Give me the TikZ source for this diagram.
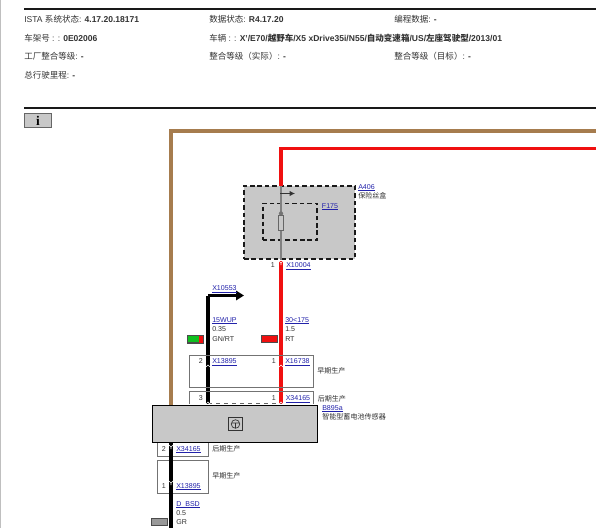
\documentclass[tikz,border=0pt]{standalone}
\usepackage{fontspec}
\usetikzlibrary{arrows.meta}
\setmainfont{Liberation Sans}
\newfontfamily\cjkf{Noto Sans CJK SC}
\newfontfamily\serifi{Liberation Serif}
\newcommand{\zh}[1]{{\cjkf #1}}
\newcommand{\zhb}[1]{{\cjkf\bfseries #1}}
\definecolor{wbrown}{HTML}{A67C4E}
\definecolor{wred}{HTML}{F01010}
\definecolor{wgreen}{HTML}{10C020}
\definecolor{boxgray}{HTML}{C8C8C8}
\definecolor{linkblue}{HTML}{2222AA}
\definecolor{txt}{HTML}{333333}
\tikzset{
  x=0.75pt,y=-0.75pt,
  hdr/.style={anchor=west,inner sep=0pt,font=\fontsize{6.4pt}{7pt}\selectfont,text=txt},
  lbl/.style={anchor=west,inner sep=0pt,font=\fontsize{5.3pt}{6pt}\selectfont,text=txt},
  lnk/.style={lbl,text=linkblue},
  num/.style={anchor=east,inner sep=0pt,font=\fontsize{5.3pt}{6pt}\selectfont,text=txt},
  rule/.style={line width=1.4pt,black!90},
  thinbox/.style={draw=black!55,line width=0.5pt},
  dashbox/.style={draw=black!90,line width=1.3pt,dash pattern=on 3.4pt off 2.2pt},
  swatch/.style={draw=black!70,line width=0.3pt,minimum width=12pt,minimum height=5.5pt,inner sep=0pt},
  redwire/.style={draw=wred,line width=2.3pt},
  blackwire/.style={draw=black,line width=2.4pt},
  brownwire/.style={draw=wbrown,line width=2.5pt},
  pinmark/.style={draw=white,line width=0.45pt},
}
\newcommand{\ul}[1]{{\setbox0\hbox{#1}\rlap{\smash{\raisebox{-0.8pt}{\rule{\wd0}{0.3pt}}}}\box0}}
% pin marks: a small white fork on a wire
\newcommand{\pinY}[2]{\draw[pinmark] (#1-2,#2-2) -- (#1,#2) -- (#1+2,#2-2) (#1,#2) -- (#1,#2+2);}
\newcommand{\pinA}[2]{\draw[pinmark] (#1-2,#2+2) -- (#1,#2) -- (#1+2,#2+2);}
\begin{document}
\begin{tikzpicture}
\useasboundingbox (0,0) rectangle (602,528);
\fill[white] (0,0) rectangle (602,528);
\fill[black!25] (0,0) rectangle (1,528);
% header
\coordinate (r1a) at (24,9); \coordinate (r1b) at (596,9);
\coordinate (r2a) at (24,108); \coordinate (r2b) at (596,108);
\draw[rule] (r1a) -- (r1b);
\draw[rule] (r2a) -- (r2b);
\node[hdr] (h1) at (24,19) {ISTA \zh{系统状态}: \textbf{4.17.20.18171}};
\node[hdr] (h2) at (209,19) {\zh{数据状态}: \textbf{R4.17.20}};
\node[hdr] (h3) at (394,19) {\zh{编程数据}: \textbf{-}};
\node[hdr] (h4) at (24,38) {\zh{车架号} : : \textbf{0E02006}};
\node[hdr] (h5) at (209,38) {\zh{车辆} : : \textbf{X'/E70/\zhb{越野车}/X5 xDrive35i/N55/\zhb{自动变速箱}/US/\zhb{左座驾驶型}/2013/01}};
\node[hdr] (h6) at (24,56.5) {\zh{工厂整合等级}: \textbf{-}};
\node[hdr] (h7) at (209,56.5) {\zh{整合等级（实际）}: \textbf{-}};
\node[hdr] (h8) at (394,56.5) {\zh{整合等级（目标）}: \textbf{-}};
\node[hdr] (h9) at (24,75) {\zh{总行驶里程}: \textbf{-}};
% info button
\node[draw=black!60,fill=boxgray,line width=0.5pt,minimum width=20.5pt,minimum height=10.8pt,inner sep=0pt,font=\serifi\bfseries\fontsize{10pt}{10pt}\selectfont] (info) at (38,120.5) {i};
% brown
\coordinate (bA) at (171,405);
\coordinate (bB) at (171,131);
\coordinate (bC) at (596,131);
\draw[brownwire] (bA) -- (bB) -- (bC);
% fuse box
\node[dashbox,fill=boxgray,minimum width=83pt,minimum height=54.7pt,inner sep=0pt] (a406) at (299.3,222.2) {};
\node[dashbox,minimum width=41pt,minimum height=27.5pt,inner sep=0pt] (f175) at (290,221.7) {};
% red wire
\coordinate (rA) at (596,148.5);
\coordinate (rB) at (281,148.5);
\coordinate (rC) at (281,186);
\coordinate (rD) at (281,260);
\coordinate (rE) at (281,404);
\draw[redwire] (rA) -- (rB) -- (rC);
\draw[draw=black!50,line width=0.8pt] (rC) -- (rD);
\draw[redwire] (281,261) -- (rE);
% fuse
\fill[black!55] (281,213.5) circle (1.6pt);
\node[draw=black!60,fill=boxgray,line width=0.5pt,minimum width=4.2pt,minimum height=11pt,inner sep=0pt] (fuse) at (281,223) {};
\coordinate (ta) at (280,193.5); \coordinate (tb) at (295,193.5);
\draw[black!80,line width=0.6pt,-{Latex[length=4pt,width=4pt]}] (ta) -- (tb);
\node[lnk] (la406) at (358,187) {\ul{A406}};
\node[lbl] (lbx) at (358,195.5) {\zh{保险丝盒}};
\node[lnk] (lf175) at (321.7,206) {\ul{F175}};
\node[num] (n1) at (275,265.5) {1};
\node[lnk] (x10004) at (286,265.5) {\ul{X10004}};
% black top wire
\coordinate (bkA) at (208,295.5);
\coordinate (bkB) at (208,404);
\coordinate (bkC) at (244,295.5);
\draw[blackwire] (bkA) -- (bkB);
\draw[black,line width=2.4pt,-{Triangle[length=6pt,width=7pt]}] (bkA) -- (bkC);
\node[lnk] (x10553) at (212,288.5) {\ul{X10553}};
\node[lnk] (w1) at (212,320) {\ul{15WUP}};
\node[lbl] (w2) at (212,329.5) {0.35};
\node[lbl] (w3) at (212,339) {GN/RT};
\node[lnk] (w4) at (285,320) {\ul{30<175}};
\node[lbl] (w5) at (285,329.5) {1.5};
\node[lbl] (w6) at (285,339) {RT};
\node[swatch,fill=wgreen] (sg) at (195.5,339) {};
\fill[wred] (198.5,335.5) rectangle (203.5,342.5);
\draw[black!70,line width=0.3pt] (187.5,335.3) rectangle (203.5,342.7);
\node[swatch,fill=wred] (sr) at (269.3,339) {};
% early box
\node[thinbox,minimum width=93pt,minimum height=24pt,inner sep=0pt] (ebox) at (251.3,371.3) {};
\node[num] (n2) at (203,361.5) {2};
\node[lnk] (x13895a) at (212,361.5) {\ul{X13895}};
\node[num] (n3) at (276,361.5) {1};
\node[lnk] (x16738) at (285,361.5) {\ul{X16738}};
\node[lbl] (e1) at (317,370.5) {\zh{早期生产}};
% later box
\draw[thinbox] (189.3,404) -- (189.3,391.7) -- (313.5,391.7) -- (313.5,404);
\node[num] (n4) at (203,398.5) {3};
\node[num] (n5) at (276,398.5) {1};
\node[lnk] (x34165a) at (285.5,398.5) {\ul{X34165}};
\node[lbl] (e2) at (317.5,398.5) {\zh{后期生产}};
\draw[black!60,line width=0.4pt,dashed] (208,403.3) -- (281,403.3);
% sensor
\node[draw=black,fill=boxgray,line width=1.1pt,minimum width=124pt,minimum height=27.5pt,inner sep=0pt] (sensor) at (235,424) {};
\node[draw=black!80,line width=0.7pt,minimum width=10.8pt,minimum height=10pt,inner sep=0pt] (icon) at (235.5,424) {};
\draw[black!80,line width=0.5pt] (icon.center) circle (3.2pt) ++(-4,-1) -- ++(8,0) (icon.center) ++(0,-1) -- ++(0,5);
\node[lnk] (b895) at (322,407.7) {\ul{B895a}};
\node[lbl] (b895t) at (322,416.5) {\zh{智能型蓄电池传感器}};
% bottom
\draw[thinbox] (157.3,443) -- (157.3,456.3) -- (208,456.3) -- (208,443);
\node[thinbox,minimum width=38pt,minimum height=24.5pt,inner sep=0pt] (ebox2) at (182.7,476.7) {};
\coordinate (bwA) at (171,443);
\coordinate (bwB) at (171,528);
\draw[blackwire] (bwA) -- (bwB);
\node[num] (n6) at (166,449) {2};
\node[lnk] (x34165b) at (176,449) {\ul{X34165}};
\node[lbl] (e3) at (212,448.5) {\zh{后期生产}};
\node[lbl] (e4) at (212,475.7) {\zh{早期生产}};
\node[num] (n7) at (166,485.7) {1};
\node[lnk] (x13895b) at (176,485.7) {\ul{X13895}};
\node[lnk] (w7) at (176,504.3) {\ul{D\_BSD}};
\node[lbl] (w8) at (176,513) {0.5};
\node[lbl] (w9) at (176,522) {GR};
\node[swatch,fill=black!40] (sw) at (159.5,522) {};
% pins
\pinY{281}{263}
\pinA{208}{365}
\pinA{281}{365}
\pinA{208}{402}
\pinA{281}{402}
\pinY{171}{447}
\pinY{171}{483}
\end{tikzpicture}
\end{document}
